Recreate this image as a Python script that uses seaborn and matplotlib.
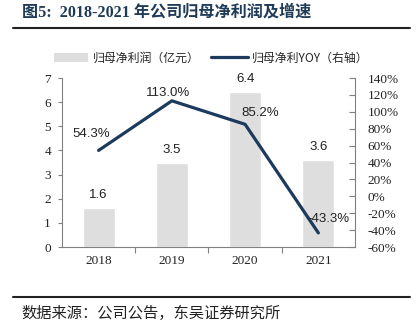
import matplotlib
matplotlib.use("Agg")
import matplotlib.pyplot as plt
import seaborn as sns
import pandas as pd
from matplotlib.ticker import FuncFormatter
from matplotlib.patches import Patch
from matplotlib.lines import Line2D

years = ["2018", "2019", "2020", "2021"]
profit = [1.6, 3.5, 6.4, 3.6]          # 归母净利润（亿元）
yoy = [54.3, 113.0, 85.2, -43.3]       # 归母净利YOY（%）

sns.set_theme(style="white")
plt.rcParams["font.family"] = ["Liberation Serif", "Noto Sans CJK SC"]
plt.rcParams["axes.unicode_minus"] = False

df = pd.DataFrame({"year": years, "profit": profit, "yoy": yoy})

fig = plt.figure(figsize=(4.2, 3.3), dpi=100)
ax = fig.add_axes([0.1476, 0.2515, 0.6976, 0.5121])

bar_color = "#DEDEDE"
line_color = "#1B3A5E"
axis_color = "#808080"
text_color = "#222222"

sns.barplot(data=df, x="year", y="profit", color=bar_color, width=0.44,
            saturation=1, ax=ax)
ax.set_ylim(0, 7)
ax.set_xlim(-0.5, 3.5)
ax.set_yticks(range(0, 8))
ax.set_xlabel("")
ax.set_ylabel("")
for i, v in enumerate(profit):
    ax.annotate(f"{v:.1f}", (i, v), xytext=(0, 13), textcoords="offset pixels",
                ha="center", va="center", fontsize=9.5,
                family="Liberation Sans", color=text_color)

ax2 = ax.twinx()
sns.lineplot(x=list(range(4)), y=yoy, color=line_color, linewidth=2.3, ax=ax2)
ax2.set_ylim(-60, 140)
ax2.set_yticks(range(-60, 141, 20))
ax2.yaxis.set_major_formatter(FuncFormatter(lambda v, p: f"{v:.0f}%"))
# label offsets (pixels) so the percentages sit clear of the line
label_offsets = [(-7, 16), (-4, 8), (15, 11), (10, 14)]
for i, v in enumerate(yoy):
    ax2.annotate(f"{v:.1f}%", (i, v), xytext=label_offsets[i],
                 textcoords="offset pixels", ha="center", va="center",
                 fontsize=9.5, family="Liberation Sans", color=text_color)

for a in (ax, ax2):
    for s in a.spines.values():
        s.set_visible(False)
ax.spines["left"].set_visible(True)
ax.spines["bottom"].set_visible(True)
ax2.spines["right"].set_visible(True)
for s in (ax.spines["left"], ax.spines["bottom"], ax2.spines["right"]):
    s.set_color(axis_color)
    s.set_linewidth(0.8)

ax.tick_params(axis="y", which="both", left=True, length=3, width=0.8,
               color=axis_color, labelsize=9.5, pad=5, labelcolor=text_color)
ax2.tick_params(axis="y", which="both", right=True, length=4, width=0.8,
                color=axis_color, labelsize=9.5, pad=9, labelcolor=text_color,
                direction="in")
# category boundaries carry the x tick marks; year labels sit centred
ax.set_xticks([0.5, 1.5, 2.5], minor=False)
ax.set_xticklabels([])
ax.set_xticks(range(4), minor=True)
ax.set_xticklabels(years, minor=True)
ax.tick_params(axis="x", which="major", bottom=True, length=4, width=0.8,
               color=axis_color, direction="out")
ax.tick_params(axis="x", which="minor", bottom=False, length=0, labelsize=9.5,
               pad=6, labelcolor=text_color)

# legend entries, placed one by one above the plot
leg_prop = {"family": ["Noto Sans CJK SC"], "size": 8.6}
leg1 = fig.legend([Patch(facecolor=bar_color, edgecolor="none")],
                  ["归母净利润（亿元）"], loc="center left",
                  bbox_to_anchor=(0.128, 0.824), frameon=False, prop=leg_prop,
                  handlelength=2.9, handleheight=0.85, handletextpad=0.4,
                  borderpad=0, borderaxespad=0)
leg2 = fig.legend([Line2D([0], [0], color=line_color, linewidth=2.3)],
                  ["归母净利YOY（右轴）"], loc="center left",
                  bbox_to_anchor=(0.503, 0.824), frameon=False, prop=leg_prop,
                  handlelength=3.1, handletextpad=0.3,
                  borderpad=0, borderaxespad=0)

# title, rules and source note
fig.text(0.052, 0.961, "图5:  2018-2021 年公司归母净利润及增速", ha="left", va="center",
         fontsize=11.6, fontweight="bold", color="#1F3B57",
         family=["Liberation Serif", "Noto Sans CJK SC"])
fig.add_artist(Line2D([0.03, 0.975], [0.915, 0.915], color="#222222", lw=1.5))
fig.add_artist(Line2D([0.03, 0.975], [0.1, 0.1], color="#222222", lw=1.5))
fig.text(0.052, 0.051, "数据来源：公司公告，东吴证券研究所", ha="left", va="center",
         fontsize=11, color=text_color, family=["Noto Sans CJK SC"])

fig.savefig("out.png", dpi=100)
